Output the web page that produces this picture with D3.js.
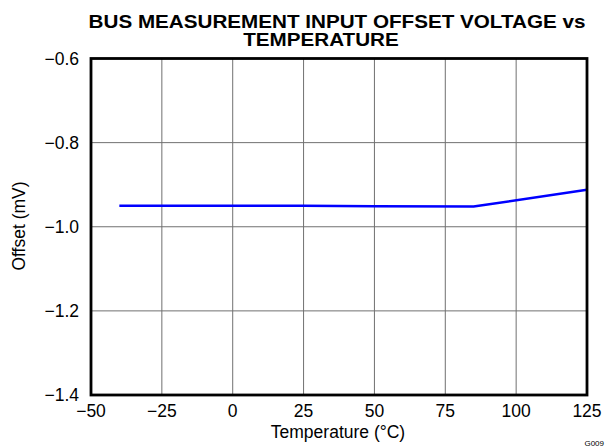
<!DOCTYPE html>
<html>
<head>
<meta charset="utf-8">
<script src="https://cdn.jsdelivr.net/npm/d3@7"></script>
<style>
  body { margin: 0; background: #fff; }
  text { font-family: "Liberation Sans", Arial, sans-serif; }
</style>
</head>
<body>
<svg id="chart" width="612" height="447"></svg>
<script>
const temps = [-40, 25, 50, 85, 125];
const offsets = [-0.950, -0.950, -0.951, -0.952, -0.912];
const xTicks = [-50, -25, 0, 25, 50, 75, 100, 125];
const yTicks = [-1.4, -1.2, -1.0, -0.8, -0.6];

const svg = d3.select("#chart");
const plotL = 91, plotR = 587, plotT = 58.5, plotB = 395;

const x = d3.scaleLinear().domain([-50, 125]).range([plotL, plotR]);
const y = d3.scaleLinear().domain([-1.4, -0.6]).range([plotB, plotT]);

const fmt = v => (v < 0 ? "\u2212" : "") + Math.abs(v);
const fmtY = v => (v < 0 ? "\u2212" : "") + Math.abs(v).toFixed(1);

// grid
svg.selectAll(".vgrid").data(xTicks.slice(1, -1)).enter().append("line")
  .attr("x1", d => x(d)).attr("x2", d => x(d))
  .attr("y1", plotT).attr("y2", plotB)
  .attr("stroke", "#707070").attr("stroke-width", 1);
svg.selectAll(".hgrid").data(yTicks.slice(1, -1)).enter().append("line")
  .attr("x1", plotL).attr("x2", plotR)
  .attr("y1", d => y(d)).attr("y2", d => y(d))
  .attr("stroke", "#707070").attr("stroke-width", 1);

// data line
const line = d3.line().x((d, i) => x(temps[i])).y(d => y(d));
svg.append("path").datum(offsets)
  .attr("d", line)
  .attr("fill", "none")
  .attr("stroke", "#0000ff")
  .attr("stroke-width", 2.5);

// frame
svg.append("rect")
  .attr("x", plotL).attr("y", plotT)
  .attr("width", plotR - plotL).attr("height", plotB - plotT)
  .attr("fill", "none").attr("stroke", "#000").attr("stroke-width", 2.8);

// tick labels
svg.selectAll(".xt").data(xTicks).enter().append("text")
  .attr("x", d => x(d)).attr("y", 417)
  .attr("text-anchor", "middle").attr("font-size", 17.5)
  .text(fmt);
svg.selectAll(".yt").data(yTicks).enter().append("text")
  .attr("x", 79).attr("y", d => y(d) + 6)
  .attr("text-anchor", "end").attr("font-size", 17.5)
  .text(fmtY);

// axis titles
svg.append("text")
  .attr("x", 338).attr("y", 438)
  .attr("text-anchor", "middle").attr("font-size", 17.5)
  .text("Temperature (\u00B0C)");
svg.append("text")
  .attr("transform", "translate(25,226) rotate(-90)")
  .attr("text-anchor", "middle").attr("font-size", 17.5)
  .text("Offset (mV)");

// title
svg.append("g").attr("transform", "translate(337,0) scale(1.18,1)")
  .append("text")
  .attr("x", 0).attr("y", 28)
  .attr("text-anchor", "middle").attr("font-size", 17.5).attr("font-weight", "bold")
  .text("BUS MEASUREMENT INPUT OFFSET VOLTAGE vs");
svg.append("g").attr("transform", "translate(321,0) scale(1.18,1)")
  .append("text")
  .attr("x", 0).attr("y", 46)
  .attr("text-anchor", "middle").attr("font-size", 17.5).attr("font-weight", "bold")
  .text("TEMPERATURE");

svg.append("text")
  .attr("x", 604).attr("y", 446)
  .attr("text-anchor", "end").attr("font-size", 8)
  .text("G009");
</script>
</body>
</html>
